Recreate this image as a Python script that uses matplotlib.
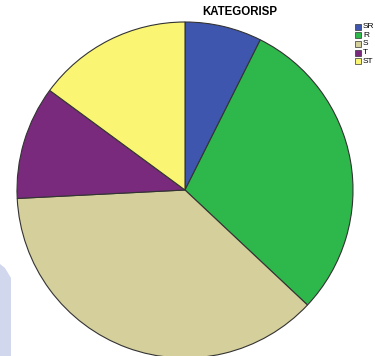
import matplotlib
matplotlib.use("Agg")
import matplotlib.pyplot as plt
from matplotlib.patches import Rectangle, Polygon

categories = ["SR", "R", "S", "T", "ST"]
values = [7.4, 29.6, 37.2, 10.9, 14.9]
colors = ["#3E56AE", "#2EB84B", "#D4CF9B", "#7A2A7C", "#FAF673"]
title = "KATEGORISP"

W, H = 375, 356
fig = plt.figure(figsize=(W / 100, H / 100), dpi=100)
ax = fig.add_axes([0, 0, 1, 1])

# faint pale-blue shape along the lower-left edge
ax.add_patch(Polygon([[0, 0], [11, 0], [11, 78], [5, 88], [0, 92]],
                     closed=True, facecolor="#C9D0EA", edgecolor="none", alpha=0.85, zorder=0))

wedges, _ = ax.pie(values, colors=colors, startangle=90, counterclock=False,
                   center=(185, H - 190), radius=168, frame=True,
                   wedgeprops=dict(edgecolor="#333333", linewidth=0.8))
ax.set_xlim(0, W)
ax.set_ylim(0, H)
ax.set_aspect("equal")
ax.axis("off")

ax.text(240, H - 12, title, ha="center", va="center", fontsize=8.3,
        fontweight="bold", family="Liberation Sans")

# legend boxes
for i, (lab, c) in enumerate(zip(categories, colors)):
    y = H - (26.5 + i * 8.7)
    ax.add_patch(Rectangle((355, y - 3), 6, 6, facecolor=c, edgecolor="#333333", linewidth=0.5))
    ax.text(363, y, lab, ha="left", va="center", fontsize=6, family="Liberation Sans")

fig.savefig("out.png", dpi=100)
